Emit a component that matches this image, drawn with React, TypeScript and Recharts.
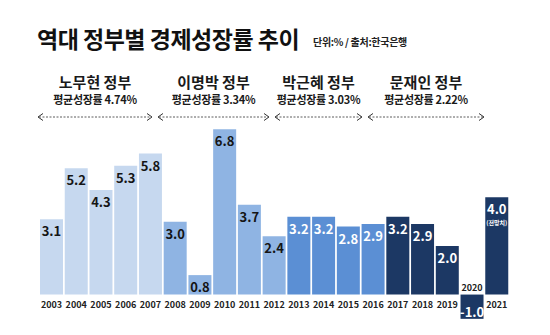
import * as React from 'react'
import { BarChart, Bar, XAxis, YAxis, Cell, LabelList } from 'recharts'

const years = ['2003', '2004', '2005', '2006', '2007', '2008', '2009', '2010', '2011', '2012', '2013', '2014', '2015', '2016', '2017', '2018', '2019', '2020', '2021']
const growth = [3.1, 5.2, 4.3, 5.3, 5.8, 3.0, 0.8, 6.8, 3.7, 2.4, 3.2, 3.2, 2.8, 2.9, 3.2, 2.9, 2.0, -1.0, 4.0]
const govOfYear = [0, 0, 0, 0, 0, 1, 1, 1, 1, 1, 2, 2, 2, 2, 3, 3, 3, 3, 3]

const govNames = ['노무현 정부', '이명박 정부', '박근혜 정부', '문재인 정부']
const govAverages = ['4.74', '3.34', '3.03', '2.22']
const govColors = ['#c6d8ef', '#8fb4e3', '#5b8fd4', '#1c3864']
const govTextColors = ['#151515', '#151515', '#ffffff', '#ffffff']
const forecastYear = '2021'

const data = years.map((year, i) => ({ year, value: growth[i], gov: govOfYear[i] }))

const FONT = "'Noto Sans CJK KR', 'Noto Sans', sans-serif"

// header spans (left, right) in px, just layout for the arrows
const spans = [
  [38, 152],
  [158, 269],
  [275, 362],
  [368, 484]
]

function BarLabels(props: any) {
  const { x, y, width, height, value } = props
  const i = years.indexOf(value)
  if (i < 0) return null
  const v = growth[i]
  const top = Math.min(y, y + height)
  const bottom = Math.max(y, y + height)
  const cx = x + width / 2
  const baseline = v >= 0 ? bottom : top
  const color = govTextColors[govOfYear[i]]
  return (
    <g fontFamily={FONT}>
      <text
        x={cx}
        y={v >= 0 ? top + 17 : bottom - 2}
        textAnchor="middle"
        fontSize={13}
        fontWeight={700}
        fill={color}
      >
        {v.toFixed(1)}
      </text>
      {value === forecastYear && (
        <text x={cx} y={top + 28} textAnchor="middle" fontSize={6} fontWeight={700} fill={color}>
          (전망치)
        </text>
      )}
      <text
        x={cx}
        y={v >= 0 ? baseline + 13.5 : baseline - 4}
        textAnchor="middle"
        fontSize={9}
        fontWeight={700}
        fill="#222"
      >
        {value}
      </text>
    </g>
  )
}

export default function App() {
  return (
    <div style={{ position: 'absolute', left: 0, top: 0, width: 550, height: 335, background: '#fff' }}>
      <BarChart
        width={550}
        height={335}
        data={data}
        margin={{ top: 88, right: 41, bottom: 4, left: 39 }}
        barSize={23}
      >
        <XAxis dataKey="year" hide />
        <YAxis domain={[-1.5, 8.5]} hide />
        <Bar dataKey="value" isAnimationActive={false}>
          {data.map((d, i) => (
            <Cell key={`cell-${i}`} fill={govColors[d.gov]} />
          ))}
          <LabelList dataKey="year" content={BarLabels} />
        </Bar>
      </BarChart>

      <svg
        width={550}
        height={130}
        style={{ position: 'absolute', left: 0, top: 0, pointerEvents: 'none' }}
        fontFamily={FONT}
      >
        <text x={37} y={48} fontSize={23} fontWeight={700} fill="#111" letterSpacing={-0.5}>
          역대 정부별 경제성장률 추이
        </text>
        <text x={313} y={46} fontSize={10} fontWeight={700} fill="#222" letterSpacing={-0.3}>
          단위:% / 출처:한국은행
        </text>
        {govNames.map((name, i) => {
          const [l, r] = spans[i]
          const cx = (l + r) / 2
          return (
            <g key={name}>
              <text x={cx} y={88} textAnchor="middle" fontSize={15} fontWeight={700} fill="#1a1a1a">
                {name}
              </text>
              <text x={cx} y={104} textAnchor="middle" fontSize={11} fontWeight={700} fill="#1a1a1a" letterSpacing={-0.3}>
                {`평균성장률 ${govAverages[i]}%`}
              </text>
              <line x1={l + 1} y1={117} x2={r - 1} y2={117} stroke="#333" strokeWidth={0.8} strokeDasharray="2 1.5" />
              <polyline points={`${l + 5},113.5 ${l},117 ${l + 5},120.5`} fill="none" stroke="#333" strokeWidth={1} />
              <polyline points={`${r - 5},113.5 ${r},117 ${r - 5},120.5`} fill="none" stroke="#333" strokeWidth={1} />
            </g>
          )
        })}
      </svg>
    </div>
  )
}
